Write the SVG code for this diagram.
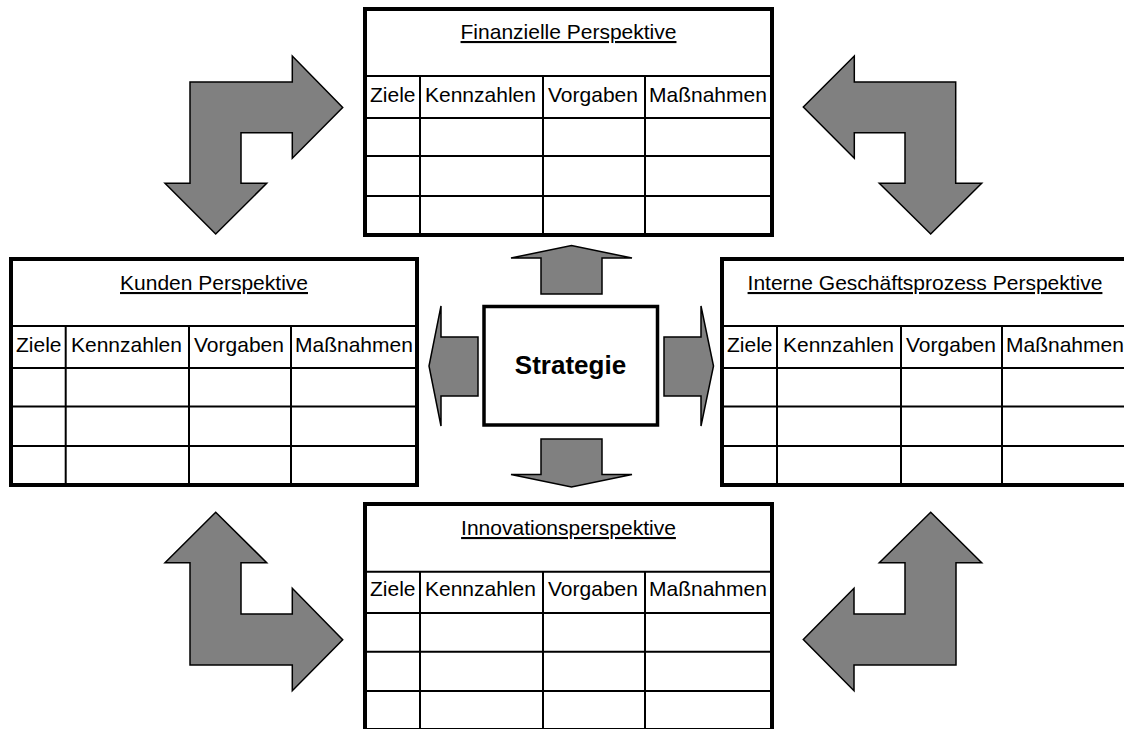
<svg xmlns="http://www.w3.org/2000/svg" width="1124" height="729" viewBox="0 0 1124 729">
<style>
.frame{fill:#fff;stroke:#000;stroke-width:4}
.grid{stroke:#000;stroke-width:2;fill:none}
.title{font-family:"Liberation Sans",Arial,sans-serif;font-size:21px;text-anchor:middle;text-decoration:underline;fill:#000}
.hdr{font-family:"Liberation Sans",Arial,sans-serif;font-size:21px;fill:#000}
.arrow{fill:#808080;stroke:#000;stroke-width:1.5;stroke-linejoin:miter}
.strat{font-family:"Liberation Sans",Arial,sans-serif;font-size:26px;font-weight:bold;text-anchor:middle;fill:#000}
</style>
<rect width="1124" height="729" fill="#fff"/>

<g id="connectors">
  <polygon class="arrow" points="541,294 541,258 511,258 571.5,245.5 632,258 602,258 602,294"/>
  <polygon class="arrow" points="541,439 602,439 602,474.5 632,474.5 571.5,487 511,474.5 541,474.5"/>
  <polygon class="arrow" points="478,337 478,396 441,396 441,426 429,366 441,306 441,337"/>
  <polygon class="arrow" points="664,337 701,337 701,306 713.5,366 701,426 701,396 664,396"/>
  <polygon class="arrow" points="190,82 292.3,82 292.3,56 342.7,107.5 292.3,158.3 292.3,132.7 241,132.7 241,183.3 266.7,183.3 215.7,234 165,183.3 190,183.3"/>
  <polygon class="arrow" points="803.3,107 854.3,56 854.3,82 955.7,82 955.7,183.3 981.7,183.3 930.7,234 879.3,183.3 905,183.3 905,132.7 854.3,132.7 854.3,158.3"/>
  <polygon class="arrow" points="215.7,512.3 266.7,562.7 241,562.7 241,614 292.3,614 292.3,588.3 342.7,639.7 292.3,690.7 292.3,665 190,665 190,562.7 165,562.7"/>
  <polygon class="arrow" points="930.7,512.3 981.7,562.7 956,562.7 956,665 854,665 854,690.7 803.3,639.5 854,588.3 854,614 905,614 905,562.7 879.3,562.7"/>
</g>

<g id="strategie">
  <rect x="484" y="306.5" width="173.5" height="118.5" fill="#fff" stroke="#000" stroke-width="3.5"/>
  <text class="strat" x="570.5" y="374">Strategie</text>
</g>

<g id="finanzielle">
  <rect class="frame" x="365" y="9" width="407" height="226"/>
  <path class="grid" d="M365,76H772M365,118H772M365,156H772M365,196H772M420,76V235M543,76V235M645,76V235"/>
  <text class="title" x="568.5" y="39">Finanzielle Perspektive</text>
  <text class="hdr" y="102"><tspan x="370">Ziele</tspan><tspan x="425">Kennzahlen</tspan><tspan x="548">Vorgaben</tspan><tspan x="649">Maßnahmen</tspan></text>
</g>

<g id="kunden">
  <rect class="frame" x="11" y="259" width="406" height="226"/>
  <path class="grid" d="M11,326H417M11,368H417M11,406.5H417M11,446H417M65.7,326V485M189,326V485M291,326V485"/>
  <text class="title" x="214" y="290">Kunden Perspektive</text>
  <text class="hdr" y="352"><tspan x="16">Ziele</tspan><tspan x="71">Kennzahlen</tspan><tspan x="194">Vorgaben</tspan><tspan x="295">Maßnahmen</tspan></text>
</g>

<g id="interne">
  <rect class="frame" x="722" y="259" width="406" height="226"/>
  <path class="grid" d="M722,326H1128M722,368H1128M722,406.5H1128M722,446H1128M777,326V485M901,326V485M1002,326V485"/>
  <text class="title" x="925" y="290">Interne Geschäftsprozess Perspektive</text>
  <text class="hdr" y="352"><tspan x="727">Ziele</tspan><tspan x="783">Kennzahlen</tspan><tspan x="906">Vorgaben</tspan><tspan x="1006">Maßnahmen</tspan></text>
</g>

<g id="innovation">
  <rect class="frame" x="365" y="504" width="407" height="226"/>
  <path class="grid" d="M365,571.7H772M365,613H772M365,651.7H772M365,691H772M420,571.7V730M543,571.7V730M645,571.7V730"/>
  <text class="title" x="568.5" y="535">Innovationsperspektive</text>
  <text class="hdr" y="596"><tspan x="370">Ziele</tspan><tspan x="425">Kennzahlen</tspan><tspan x="548">Vorgaben</tspan><tspan x="649">Maßnahmen</tspan></text>
</g>
</svg>
